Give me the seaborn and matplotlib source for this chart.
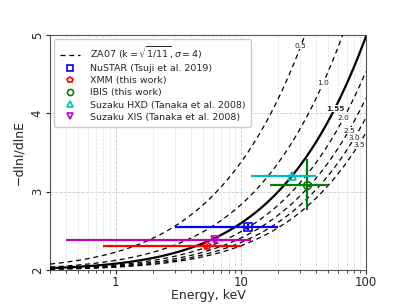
import numpy as np
import pandas as pd
import matplotlib
matplotlib.use("Agg")
import matplotlib.pyplot as plt
import seaborn as sns

# ZA07 model cutoff energies (keV)
e0_values = [0.5, 1.0, 1.55, 2.0, 2.5, 3.0, 3.5]
e0_labels = ["0.5", "1.0", "1.55", "2.0", "2.5", "3.0", "3.5"]
label_energy = [30.2, 45.5, 56.5, 66.3, 73.1, 80.7, 87.7]

# Measurements
names = ["NuSTAR (Tsuji et al. 2019)", "XMM (this work)", "IBIS (this work)",
         "Suzaku HXD (Tanaka et al. 2008)", "Suzaku XIS (Tanaka et al. 2008)"]
energy = [11.5, 5.4, 33.6, 25.9, 6.2]
e_lo = [3.0, 0.8, 17.0, 12.0, 0.4]
e_hi = [20.0, 10.0, 50.0, 40.0, 12.0]
gamma = [2.55, 2.30, 3.09, 3.20, 2.38]
gamma_err = [0.04, 0.03, 0.33, 0.0, 0.03]
colors = ["#0000ff", "#ff0000", "#008000", "#00bfbf", "#bf00bf"]
markers = ["s", "p", "o", "^", "v"]


def za07_index(E, E0):
    x = np.sqrt(E / E0)
    return 2 + 0.5 * x - (11 / 4) * 0.38 * 0.5 * x / (1 + 0.38 * x)


sns.set_style("ticks")
fig = plt.figure(figsize=(4.07, 3.05), dpi=100)
ax = fig.add_axes([0.123, 0.115, 0.776, 0.77])

E = np.logspace(np.log10(0.3), 2, 400)
rows = []
for e0 in e0_values:
    for e, g in zip(E, za07_index(E, e0)):
        rows.append({"E": e, "G": g, "E0": e0})
model = pd.DataFrame(rows)

for e0 in e0_values:
    sub = model[model["E0"] == e0]
    if e0 == 1.55:
        sns.lineplot(data=sub, x="E", y="G", ax=ax, color="black", lw=1.6,
                     ls="-", legend=False, zorder=3)
    else:
        sns.lineplot(data=sub, x="E", y="G", ax=ax, color="black", lw=0.9,
                     ls=(0, (4, 3)), legend=False, zorder=3)

for e0, lab, le in zip(e0_values, e0_labels, label_energy):
    ax.text(le, za07_index(le, e0), lab, fontsize=5.3, ha="center", va="center",
            fontweight="bold" if e0 == 1.55 else "normal",
            bbox=dict(facecolor="white", edgecolor="none", pad=0.2), zorder=4)

ax.plot([], [], color="black", lw=0.9, ls=(0, (4, 3)),
        label=r"ZA07 ($\mathrm{k}=\sqrt{1/11}, \sigma=4$)")

for n, e, lo, hi, g, ge, c, m in zip(names, energy, e_lo, e_hi, gamma, gamma_err, colors, markers):
    ax.errorbar([e], [g], xerr=[[e - lo], [hi - e]], yerr=[[ge], [ge]] if ge > 0 else None,
                fmt="none", ecolor=c, elinewidth=1.6, zorder=5)
    ax.plot([e], [g], marker=m, ls="none", mfc="none", mec=c, mew=1.2, ms=5.5,
            label=n, zorder=6)

ax.set_xscale("log")
ax.set_xlim(0.3, 100)
ax.set_ylim(2, 5)
ax.set_yticks([2, 3, 4, 5])
ax.set_xticks([1, 10, 100])
ax.set_xticklabels(["1", "10", "100"])
ax.tick_params(axis="both", labelsize=8.5, length=3, pad=1.5)
for t in ax.get_yticklabels():
    t.set_rotation(90)
    t.set_va("center")
ax.grid(True, which="major", ls="--", color="#cccccc", lw=0.6)
ax.grid(True, which="minor", axis="x", ls="--", color="#dddddd", lw=0.5)
ax.set_xlabel("Energy, keV", fontsize=9, labelpad=0)
ax.set_ylabel("−dlnI/dlnE", fontsize=9, labelpad=4)
for s in ax.spines.values():
    s.set_color("#555555")
    s.set_linewidth(0.8)

leg = ax.legend(loc="upper left", fontsize=6.8, frameon=True, handlelength=2.2,
                handletextpad=1.0, borderpad=0.6, labelspacing=0.33,
                framealpha=1, edgecolor="#cccccc", markerscale=0.8,
                borderaxespad=0.4)

fig.savefig("out.png", dpi=100)
